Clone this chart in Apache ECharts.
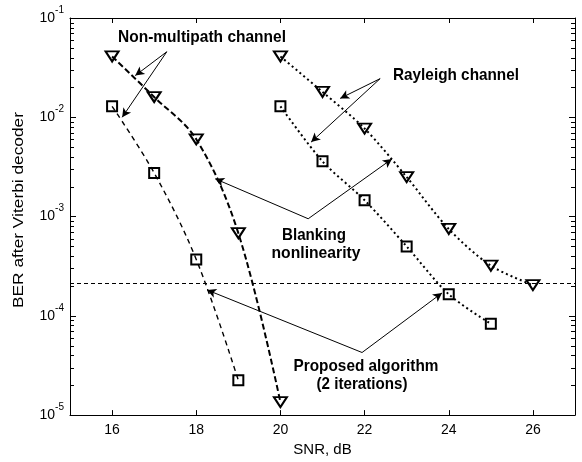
<!DOCTYPE html>
<html>
<head>
<meta charset="utf-8">
<script src="https://cdn.jsdelivr.net/npm/echarts@6/dist/echarts.min.js"></script>
<style>
html,body{margin:0;padding:0;background:#fff;}
#chart{width:582px;height:462px;}
</style>
</head>
<body>
<div id="chart"></div>
<script>
// ---- data ----
const snrNM = [16, 17, 18, 19, 20];
const berNMBlank = [0.041, 0.016, 0.006, 6.8e-4, 1.35e-5];
const snrNMProp = [16, 17, 18, 19];
const berNMProp = [0.0129, 0.00275, 3.7e-4, 2.24e-5];
const snrRay = [20, 21, 22, 23, 24, 25, 26];
const berRayBlank = [0.041, 0.018, 0.0077, 0.0025, 7.5e-4, 3.2e-4, 2.04e-4];
const snrRayProp = [20, 21, 22, 23, 24, 25];
const berRayProp = [0.0129, 0.0036, 0.00146, 5.0e-4, 1.65e-4, 8.3e-5];
const thresholdBER = 2.14e-4;
const xTickLabels = [16, 18, 20, 22, 24, 26];
const yDecades = [-5, -4, -3, -2, -1];
const xLabel = 'SNR, dB';
const yLabel = 'BER after Viterbi decoder';

// annotation arrows (origin -> target) in data units
const arrowNM = [[17.30, 0.0457], [16.55, 0.0263], [16.24, 0.0100]];
const arrowRay = [[22.37, 0.0245], [21.42, 0.0155], [20.73, 0.00562]];
const arrowBlank = [[20.66, 9.5e-4], [18.45, 0.0024], [22.65, 0.0038]];
const arrowProp = [[21.94, 4.27e-5], [18.26, 1.82e-4], [23.84, 1.70e-4]];

const FONT = 'Liberation Sans, Arial, sans-serif';
const zip = (xs, ys) => xs.map((x, i) => [x, ys[i]]);
function arrowPairs(a) {
  return [
    [{coord: a[0]}, {coord: a[1]}],
    [{coord: a[0]}, {coord: a[2]}]
  ];
}

const chart = echarts.init(document.getElementById('chart'), null, {renderer: 'canvas'});

const markerStyle = {color: 'rgba(0,0,0,0)', borderColor: '#000', borderWidth: 2};

const xAxisCommon = {
  type: 'value', min: 15, max: 27,
  axisLine: {show: true, lineStyle: {color: '#000', width: 1}},
  axisTick: {show: true, inside: true, length: 5, lineStyle: {color: '#000'}, customValues: xTickLabels},
  splitLine: {show: false}
};

const option = {
  backgroundColor: '#fff',
  animation: false,
  grid: {left: 70, top: 18, right: 7, bottom: 44, containLabel: false},
  xAxis: [Object.assign({}, xAxisCommon, {
    position: 'bottom',
    name: xLabel, nameLocation: 'middle', nameGap: 25,
    nameTextStyle: {fontFamily: FONT, fontSize: 15, color: '#000'},
    axisLabel: {fontFamily: FONT, fontSize: 14, color: '#000', margin: 8, customValues: xTickLabels}
  }), Object.assign({}, xAxisCommon, {
    position: 'top',
    axisLabel: {show: false}
  })],
  yAxis: [{
    type: 'log', logBase: 10, min: 1e-5, max: 1e-1,
    position: 'left',
    axisLine: {show: true, lineStyle: {color: '#000', width: 1}},
    axisTick: {show: true, inside: true, length: 6, lineStyle: {color: '#000'}},
    axisLabel: {
      margin: 6, color: '#000',
      formatter: v => '{b|10}{s|' + Math.round(Math.log10(v)) + '}',
      rich: {
        b: {fontFamily: FONT, fontSize: 14, color: '#000', padding: [6, 0, 6, 0]},
        s: {fontFamily: FONT, fontSize: 10, color: '#000', verticalAlign: 'top'}
      }
    },
    splitLine: {show: false}
  }, {
    type: 'log', logBase: 10, min: 1e-5, max: 1e-1,
    position: 'right',
    axisLine: {show: true, lineStyle: {color: '#000', width: 1}},
    axisTick: {show: true, inside: true, length: 6, lineStyle: {color: '#000'}},
    axisLabel: {show: false},
    splitLine: {show: false}
  }],
  series: [
    {
      type: 'line', name: 'NM blanking', data: zip(snrNM, berNMBlank),
      smooth: 0.35, symbol: 'triangle', symbolSize: [13, 10], symbolRotate: 180,
      itemStyle: markerStyle,
      lineStyle: {color: '#000', width: 2, type: [6, 3]},
      z: 3,
      markLine: {
        silent: true, symbol: ['none', 'arrow'], symbolSize: [7, 9],
        label: {show: false},
        lineStyle: {color: '#000', width: 1, type: 'solid'},
        data: [].concat(arrowPairs(arrowNM), arrowPairs(arrowRay), arrowPairs(arrowBlank), arrowPairs(arrowProp))
      }
    },
    {
      type: 'line', name: 'NM proposed', data: zip(snrNMProp, berNMProp),
      smooth: 0.35, symbol: 'rect', symbolSize: 10,
      itemStyle: markerStyle,
      lineStyle: {color: '#000', width: 1.4, type: [5, 4]},
      z: 3,
      markLine: {
        silent: true, symbol: ['none', 'none'],
        label: {show: false},
        lineStyle: {color: '#000', width: 1, type: [4, 3]},
        data: [[{coord: [15, thresholdBER]}, {coord: [27, thresholdBER]}]]
      }
    },
    {
      type: 'line', name: 'Rayleigh blanking', data: zip(snrRay, berRayBlank),
      smooth: 0.3, symbol: 'triangle', symbolSize: [13, 10], symbolRotate: 180,
      itemStyle: markerStyle,
      lineStyle: {color: '#000', width: 2, type: [2, 3]},
      z: 3
    },
    {
      type: 'line', name: 'Rayleigh proposed', data: zip(snrRayProp, berRayProp),
      smooth: 0.3, symbol: 'rect', symbolSize: 10,
      itemStyle: markerStyle,
      lineStyle: {color: '#000', width: 2, type: [2, 3]},
      z: 3
    }
  ]
};
chart.setOption(option);

// minor log ticks and text annotations
const elems = [];
const xl = chart.convertToPixel({xAxisIndex: 0}, 15);
const xr = chart.convertToPixel({xAxisIndex: 0}, 27);
for (let d = yDecades[0]; d < yDecades[yDecades.length - 1]; d++) {
  for (let k = 2; k <= 9; k++) {
    const py = Math.round(chart.convertToPixel({yAxisIndex: 0}, k * Math.pow(10, d))) + 0.5;
    elems.push({type: 'line', silent: true, shape: {x1: xl, y1: py, x2: xl + 4, y2: py}, style: {stroke: '#000', lineWidth: 1}});
    elems.push({type: 'line', silent: true, shape: {x1: xr, y1: py, x2: xr - 4, y2: py}, style: {stroke: '#000', lineWidth: 1}});
  }
}
const mctx = document.createElement('canvas').getContext('2d');
function measure(text, font) { mctx.font = font; return mctx.measureText(text).width; }
const notes = [
  {t: 'Non-multipath channel', x: 202, y: 38, w: 168},
  {t: 'Rayleigh channel', x: 456, y: 76, w: 126},
  {t: 'Blanking', x: 314, y: 236, w: 64},
  {t: 'nonlinearity', x: 316, y: 254, w: 89},
  {t: 'Proposed algorithm', x: 366, y: 367, w: 145},
  {t: '(2 iterations)', x: 362, y: 385, w: 91}
];
notes.forEach(n => {
  const fs = 15;
  const sx = n.w / measure(n.t, 'bold ' + fs + 'px ' + FONT);
  elems.push({
    type: 'text', silent: true, x: n.x, y: n.y, scaleX: sx, scaleY: 1.08,
    style: {text: n.t, fontFamily: FONT, fontSize: fs, fontWeight: 'bold', fill: '#000', align: 'center', verticalAlign: 'middle'}
  });
});
// y axis name (stretched along its length like the reference)
{
  const fs = 14;
  const sx = 196 / measure(yLabel, fs + 'px ' + FONT);
  elems.push({
    type: 'text', silent: true, x: 19, y: 210, rotation: Math.PI / 2, scaleX: sx,
    style: {text: yLabel, fontFamily: FONT, fontSize: fs, fill: '#000', align: 'center', verticalAlign: 'middle'}
  });
}
chart.setOption({graphic: {elements: elems}});
</script>
</body>
</html>
